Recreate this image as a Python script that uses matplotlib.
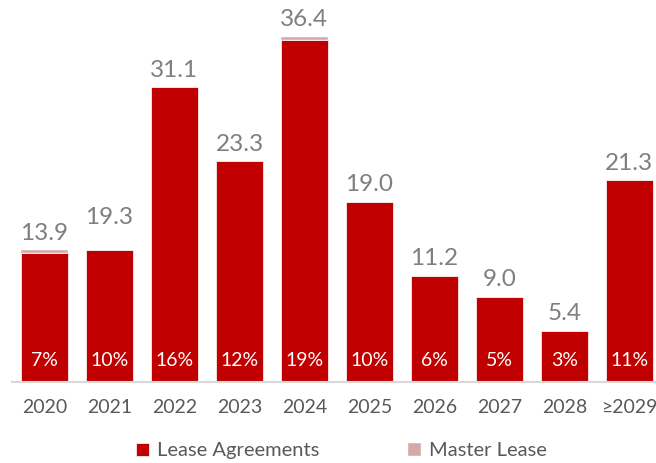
import matplotlib.pyplot as plt
import numpy as np

# lease expiry profile
years = ['2020', '2021', '2022', '2023', '2024', '2025', '2026', '2027', '2028', '≥2029']
lease_agreements = [13.6, 13.9, 31.1, 23.3, 36.1, 19.0, 11.2, 9.0, 5.4, 21.3]
master_lease = [0.3, 0.0, 0.0, 0.0, 0.3, 0.0, 0.0, 0.0, 0.0, 0.0]
totals = ['13.9', '19.3', '31.1', '23.3', '36.4', '19.0', '11.2', '9.0', '5.4', '21.3']
shares = ['7%', '10%', '16%', '12%', '19%', '10%', '6%', '5%', '3%', '11%']

plt.rcParams['font.family'] = ['Lato', 'DejaVu Sans']

fig = plt.figure(figsize=(6.56, 4.63), dpi=100)
ax = fig.add_axes([12/656, 1 - 382/463, 644/656, 379/463])

x = np.arange(len(years))
la = np.array(lease_agreements)
ml = np.array(master_lease)
ax.bar(x, la, width=0.72, color='#C00000', edgecolor='white', linewidth=0.5,
       label='Lease Agreements', zorder=2)
ax.bar(x, ml, width=0.72, bottom=la, color='#D3A9A9', edgecolor='white',
       linewidth=0.3, label='Master Lease', zorder=2)

for i in range(len(years)):
    top = la[i] + ml[i]
    # 2021 label floats higher than its bar in the source
    ax.text(x[i], top + 0.7 if i != 1 else 16.3, totals[i], ha='center', va='bottom',
            fontsize=17.5, color='#7F7F7F')
    ax.text(x[i], 2.3, shares[i], ha='center', va='center',
            fontsize=14, color='white')

ax.set_xlim(-0.5, 9.41)
ax.set_ylim(0, 40)
ax.set_yticks([])
ax.set_xticks(x)
ax.set_xticklabels(years, fontsize=14, color='#595959')
ax.tick_params(axis='x', length=0, pad=12)
for s in ['top', 'right', 'left']:
    ax.spines[s].set_visible(False)
ax.spines['bottom'].set_color('#D9D9D9')
ax.spines['bottom'].set_linewidth(1.5)
ax.spines['bottom'].set_zorder(3)

h, l = ax.get_legend_handles_labels()
leg = fig.legend(h, l, loc='center', bbox_to_anchor=(0.52, 0.026), ncol=2,
                 frameon=False, fontsize=14.5, handlelength=0.65,
                 handleheight=0.65, handletextpad=0.4, columnspacing=4.4,
                 borderpad=0)
for t in leg.get_texts():
    t.set_color('#595959')

fig.savefig('out.png', dpi=100)
